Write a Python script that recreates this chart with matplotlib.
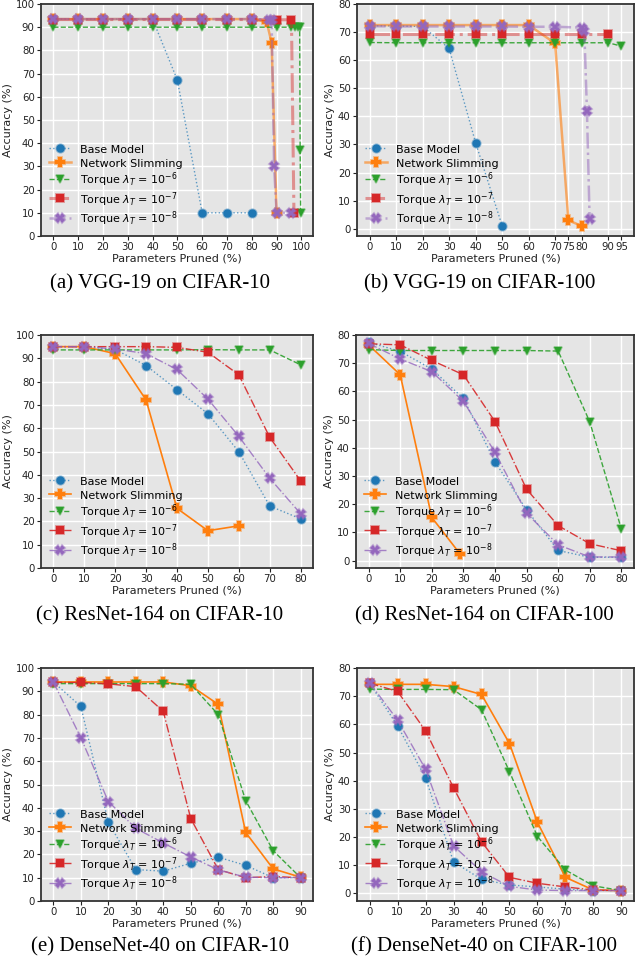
import matplotlib
matplotlib.use("Agg")
import matplotlib.pyplot as plt
from matplotlib.colors import to_rgba

# ---------------- data ----------------
labels = ["Base Model", "Network Slimming",
          r"Torque $\lambda_T$ = $10^{-6}$",
          r"Torque $\lambda_T$ = $10^{-7}$",
          r"Torque $\lambda_T$ = $10^{-8}$"]
captions = ["(a) VGG-19 on CIFAR-10", "(b) VGG-19 on CIFAR-100",
            "(c) ResNet-164 on CIFAR-10", "(d) ResNet-164 on CIFAR-100",
            "(e) DenseNet-40 on CIFAR-10", "(f) DenseNet-40 on CIFAR-100"]

# (a) VGG-19 / CIFAR-10
a_ticks = [0, 10, 20, 30, 40, 50, 60, 70, 80, 90, 100]
a_base_x = [0, 10, 20, 30, 40, 50, 60, 70, 80]
a_base_y = [93.5, 93.5, 93.5, 93.5, 93.5, 67.2, 10, 10, 10]
a_ns_x = [0, 10, 20, 30, 40, 50, 60, 70, 80, 86, 88, 90]
a_ns_y = [93.5, 93.5, 93.5, 93.5, 93.5, 93.5, 93.5, 93.5, 93.5, 92.3, 83.3, 10]
a_t6_x = [0, 10, 20, 30, 40, 50, 60, 70, 80, 90, 96, 97.5, 98.5, 99.3, 99.5, 99.7]
a_t6_y = [90, 90, 90, 90, 90, 90, 90, 90, 90, 90, 90, 90, 90, 90, 37, 10]
a_t7_x = [0, 10, 20, 30, 40, 50, 60, 70, 80, 90, 96, 97]
a_t7_y = [93.3, 93.3, 93.3, 93.3, 93.3, 93.3, 93.3, 93.3, 93.3, 93.2, 93.2, 10]
a_t8_x = [0, 10, 20, 30, 40, 50, 60, 70, 80, 87, 88, 89, 90, 96]
a_t8_y = [93.5, 93.5, 93.5, 93.5, 93.5, 93.5, 93.5, 93.5, 93.5, 93.3, 93.3, 30, 10, 10]

# (b) VGG-19 / CIFAR-100
b_ticks = [0, 10, 20, 30, 40, 50, 60, 70, 75, 80, 90, 95]
b_base_x = [0, 10, 20, 30, 40, 50]
b_base_y = [72.3, 72.2, 72.0, 64.2, 30.6, 1.1]
b_ns_x = [0, 10, 20, 30, 40, 50, 60, 70, 75, 80]
b_ns_y = [72.5, 72.5, 72.5, 72.5, 72.5, 72.5, 72.5, 66.0, 3.0, 1.0]
b_t6_x = [0, 10, 20, 30, 40, 50, 60, 70, 80, 90, 95]
b_t6_y = [66.3, 66.2, 66.2, 66.2, 66.2, 66.2, 66.2, 66.2, 66.2, 66.2, 65.0]
b_t7_x = [0, 10, 20, 30, 40, 50, 60, 70, 80, 90]
b_t7_y = [69.4, 69.4, 69.4, 69.4, 69.4, 69.4, 69.4, 69.4, 69.4, 69.4]
b_t8_x = [0, 10, 20, 30, 40, 50, 60, 70, 80, 81, 82, 83]
b_t8_y = [72.1, 72.0, 72.0, 72.0, 72.0, 72.0, 71.9, 71.9, 71.6, 70.4, 42.0, 3.6]

# (c) ResNet-164 / CIFAR-10
c_ticks = [0, 10, 20, 30, 40, 50, 60, 70, 80]
c_base_x = [0, 10, 20, 30, 40, 50, 60, 70, 80]
c_base_y = [95.0, 95.0, 93.8, 86.9, 76.5, 66.2, 49.9, 26.6, 21.1]
c_ns_x = [0, 10, 20, 30, 40, 50, 60]
c_ns_y = [95.0, 95.0, 92.0, 72.1, 25.6, 16.0, 18.1]
c_t6_x = [0, 10, 20, 30, 40, 50, 60, 70, 80]
c_t6_y = [93.6, 93.6, 93.6, 93.6, 93.6, 93.7, 93.6, 93.6, 87.2]
c_t7_x = [0, 10, 20, 30, 40, 50, 60, 70, 80]
c_t7_y = [95.0, 95.0, 95.0, 95.0, 94.7, 92.6, 82.9, 56.1, 37.4]
c_t8_x = [0, 10, 20, 30, 40, 50, 60, 70, 80]
c_t8_y = [95.0, 95.0, 94.0, 92.0, 85.2, 72.5, 56.5, 38.5, 23.3]

# (d) ResNet-164 / CIFAR-100
d_ticks = [0, 10, 20, 30, 40, 50, 60, 70, 80]
d_base_x = [0, 10, 20, 30, 40, 50, 60, 70, 80]
d_base_y = [77.4, 74.2, 67.9, 57.5, 35.0, 18.0, 3.6, 1.2, 1.2]
d_ns_x = [0, 10, 20, 29]
d_ns_y = [76.5, 65.9, 15.3, 2.3]
d_t6_x = [0, 10, 20, 30, 40, 50, 60, 70, 80]
d_t6_y = [74.8, 74.5, 74.5, 74.5, 74.5, 74.5, 74.3, 49.2, 11.2]
d_t7_x = [0, 10, 20, 30, 40, 50, 60, 70, 80]
d_t7_y = [76.9, 76.5, 71.0, 65.9, 49.3, 25.3, 12.4, 6.0, 3.5]
d_t8_x = [0, 10, 20, 30, 40, 50, 60, 70, 80]
d_t8_y = [77.0, 71.5, 67.0, 56.5, 38.4, 16.8, 5.6, 1.3, 1.3]

# (e) DenseNet-40 / CIFAR-10
e_ticks = [0, 10, 20, 30, 40, 50, 60, 70, 80, 90]
e_base_x = [0, 10, 20, 30, 40, 50, 60, 70, 80, 90]
e_base_y = [94.0, 83.5, 33.8, 13.5, 12.8, 16.2, 18.8, 15.3, 10.0, 10.0]
e_ns_x = [0, 10, 20, 30, 40, 50, 60, 70, 80, 90]
e_ns_y = [94.0, 94.0, 94.0, 94.0, 94.0, 92.4, 84.4, 29.4, 13.8, 10.2]
e_t6_x = [0, 10, 20, 30, 40, 50, 60, 70, 80, 90]
e_t6_y = [93.3, 93.3, 93.3, 93.3, 93.3, 93.0, 80.0, 43.1, 21.6, 10.0]
e_t7_x = [0, 10, 20, 30, 40, 50, 60, 70, 80, 90]
e_t7_y = [93.8, 93.8, 93.2, 92.0, 81.4, 35.4, 13.5, 10.0, 10.5, 10.0]
e_t8_x = [0, 10, 20, 30, 40, 50, 60, 70, 80, 90]
e_t8_y = [94.0, 70.1, 42.7, 31.2, 24.9, 18.9, 13.4, 10.2, 10.0, 10.0]

# (f) DenseNet-40 / CIFAR-100
f_ticks = [0, 10, 20, 30, 40, 50, 60, 70, 80, 90]
f_base_x = [0, 10, 20, 30, 40, 50, 60, 70, 80, 90]
f_base_y = [74.6, 59.5, 41.0, 11.2, 5.0, 3.0, 2.3, 1.5, 1.0, 1.0]
f_ns_x = [0, 10, 20, 30, 40, 50, 60, 70, 80, 90]
f_ns_y = [74.2, 74.2, 74.2, 73.4, 70.6, 53.2, 25.2, 5.7, 1.2, 1.0]
f_t6_x = [0, 10, 20, 30, 40, 50, 60, 70, 80, 90]
f_t6_y = [72.5, 72.4, 72.4, 72.3, 65.2, 43.2, 20.2, 8.3, 2.7, 1.0]
f_t7_x = [0, 10, 20, 30, 40, 50, 60, 70, 80, 90]
f_t7_y = [74.6, 71.7, 57.7, 37.5, 18.3, 5.7, 3.6, 2.3, 1.2, 1.0]
f_t8_x = [0, 10, 20, 30, 40, 50, 60, 70, 80, 90]
f_t8_y = [74.8, 61.5, 44.1, 16.9, 7.7, 2.5, 1.2, 1.0, 1.0, 1.0]

panels = [
    (a_ticks, [(a_base_x, a_base_y), (a_ns_x, a_ns_y), (a_t6_x, a_t6_y), (a_t7_x, a_t7_y), (a_t8_x, a_t8_y)], 100),
    (b_ticks, [(b_base_x, b_base_y), (b_ns_x, b_ns_y), (b_t6_x, b_t6_y), (b_t7_x, b_t7_y), (b_t8_x, b_t8_y)], 80),
    (c_ticks, [(c_base_x, c_base_y), (c_ns_x, c_ns_y), (c_t6_x, c_t6_y), (c_t7_x, c_t7_y), (c_t8_x, c_t8_y)], 100),
    (d_ticks, [(d_base_x, d_base_y), (d_ns_x, d_ns_y), (d_t6_x, d_t6_y), (d_t7_x, d_t7_y), (d_t8_x, d_t8_y)], 80),
    (e_ticks, [(e_base_x, e_base_y), (e_ns_x, e_ns_y), (e_t6_x, e_t6_y), (e_t7_x, e_t7_y), (e_t8_x, e_t8_y)], 100),
    (f_ticks, [(f_base_x, f_base_y), (f_ns_x, f_ns_y), (f_t6_x, f_t6_y), (f_t7_x, f_t7_y), (f_t8_x, f_t8_y)], 80),
]

# ---------------- style ----------------
colors = ["#1f77b4", "#ff7f0e", "#2ca02c", "#d62728", "#9467bd"]
lstyles = [":", "-", "--", "-.", "-."]
markers = ["o", "P", "v", "s", "X"]
msizes = [6, 7, 6, 6, 7]
thick_lw = [1.0, 1.8, 1.0, 2.2, 1.8]
thick_al = [0.7, 0.6, 0.9, 0.45, 0.5]
thin_lw = [1.0, 1.2, 1.0, 1.0, 1.0]
thin_al = [0.7, 1.0, 0.9, 0.9, 0.8]

W, H = 637, 964
fig = plt.figure(figsize=(W / 100, H / 100), dpi=100)

def rect(l, t, r, b):
    return [l / W, 1 - b / H, (r - l) / W, (b - t) / H]

rects = [rect(41, 4, 313, 236), rect(357, 4, 634, 236),
         rect(41, 335, 313, 568), rect(356, 335, 634, 568),
         rect(41, 668, 313, 901), rect(357, 668, 634, 901)]
cap_pos = [(160, 284), (480, 284), (160, 616), (484, 616), (160, 947), (484, 947)]

for i, (ticks, series, ytop) in enumerate(panels):
    ax = fig.add_axes(rects[i])
    ax.set_facecolor("#E5E5E5")
    ax.grid(True, color="white", linewidth=1.0)
    ax.set_axisbelow(True)
    vgg = i < 2
    for k, (xs, ys) in enumerate(series):
        lw = thick_lw[k] if vgg else thin_lw[k]
        al = thick_al[k] if vgg else thin_al[k]
        ax.plot(xs, ys, linestyle=lstyles[k], marker=markers[k],
                color=to_rgba(colors[k], al), linewidth=lw,
                markerfacecolor=colors[k], markeredgecolor=to_rgba(colors[k], 0.45),
                markeredgewidth=1.3, markersize=msizes[k], label=labels[k])
    ax.set_xticks(ticks)
    if ytop == 100:
        ax.set_ylim(0, 100)
        ax.set_yticks(range(0, 101, 10))
    else:
        ax.set_ylim(top=80)
        ax.set_yticks(range(0, 81, 10))
    ax.tick_params(labelsize=7.3, length=3, width=0.8, colors="#222222", pad=1.5)
    for s in ax.spines.values():
        s.set_color("#333333")
        s.set_linewidth(1.3)
    ax.set_xlabel("Parameters Pruned (%)", fontsize=8, labelpad=1, color="#222222")
    ax.set_ylabel("Accuracy (%)", fontsize=8, labelpad=2, color="#222222")
    ax.legend(loc="lower left", frameon=False, fontsize=8, labelspacing=0.08,
              handlelength=2.0, handleheight=1.45, borderaxespad=0.3)
    cx, cy = cap_pos[i]
    fig.text(cx / W, 1 - cy / H, captions[i], family="Liberation Serif",
             fontsize=15, ha="center", va="center")

fig.savefig("out.png", dpi=100)
